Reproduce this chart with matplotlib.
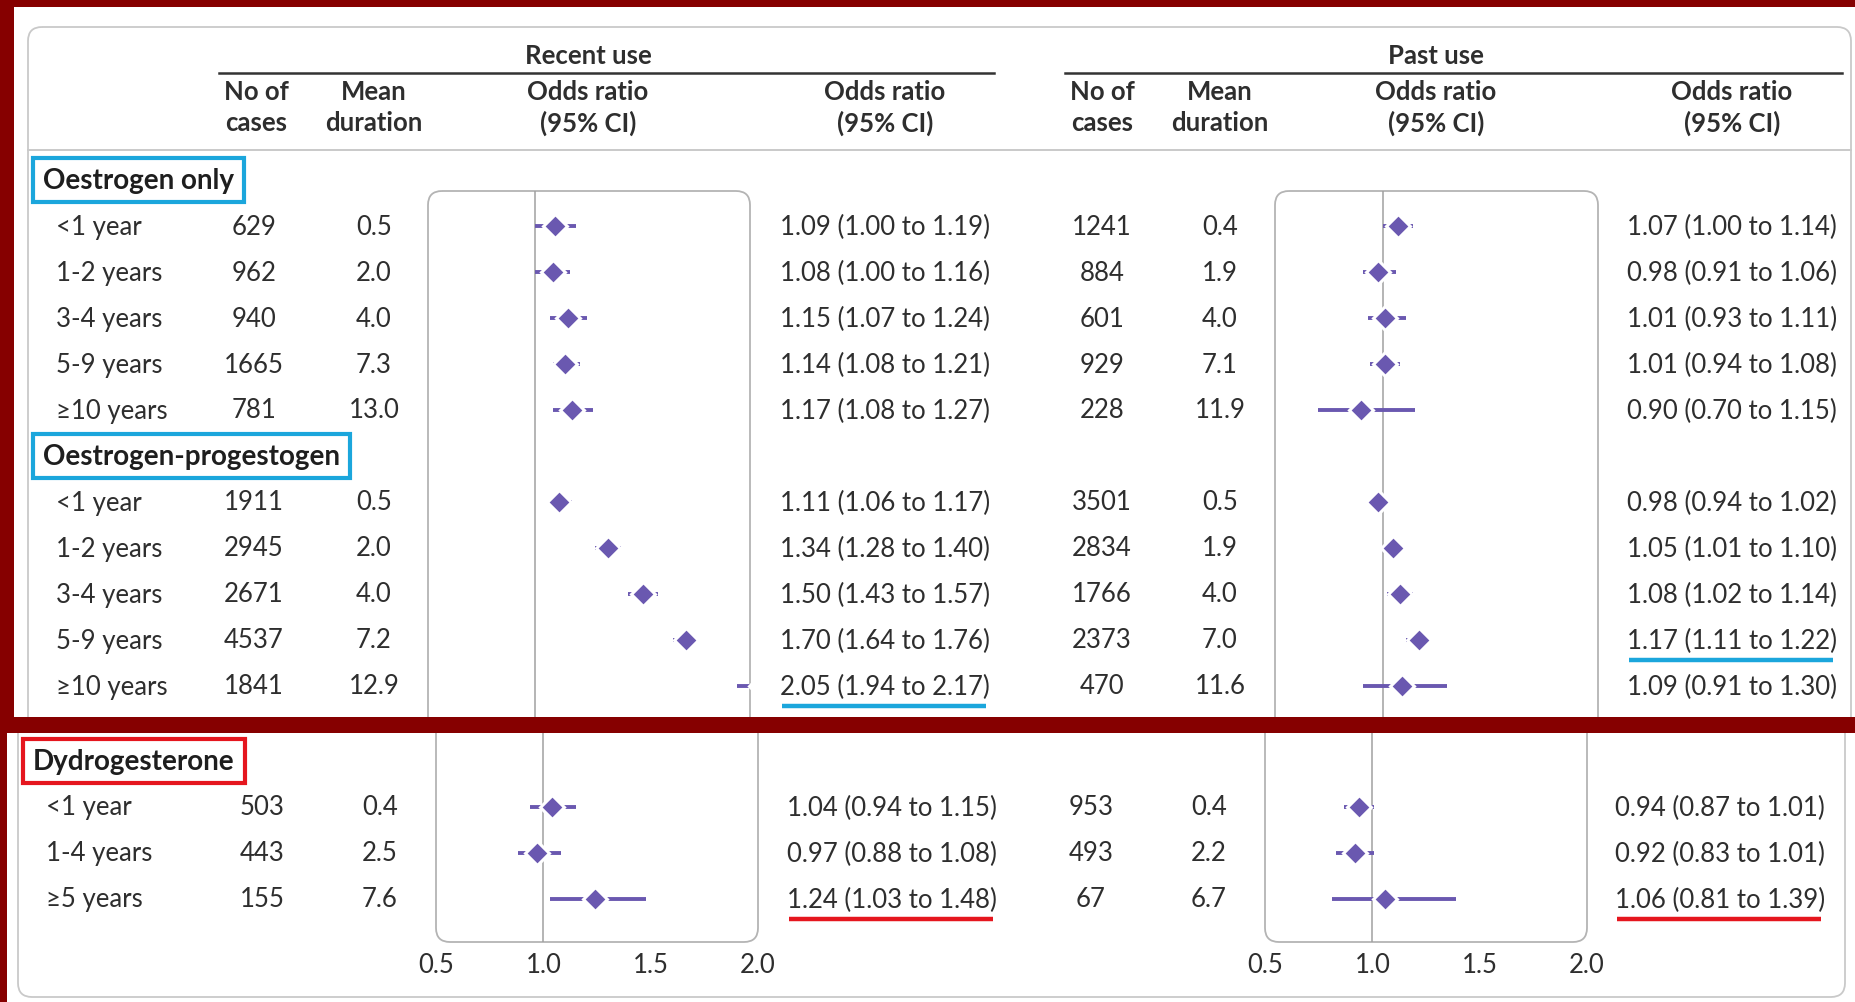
"""Forest plot of odds ratios by HRT type and duration (recent vs past use)."""

import matplotlib

matplotlib.use("Agg")
import matplotlib.pyplot as plt
from matplotlib.patches import FancyBboxPatch, Rectangle

W, H = 1856, 1003

group_names = ["Oestrogen only", "Oestrogen-progestogen", "Dydrogesterone"]
group_sizes = [5, 5, 3]
row_labels = [
    "<1 year", "1-2 years", "3-4 years", "5-9 years", "≥10 years",
    "<1 year", "1-2 years", "3-4 years", "5-9 years", "≥10 years",
    "<1 year", "1-4 years", "≥5 years",
]
recent_cases = [629, 962, 940, 1665, 781, 1911, 2945, 2671, 4537, 1841, 503, 443, 155]
recent_duration = [0.5, 2.0, 4.0, 7.3, 13.0, 0.5, 2.0, 4.0, 7.2, 12.9, 0.4, 2.5, 7.6]
recent_or = [1.09, 1.08, 1.15, 1.14, 1.17, 1.11, 1.34, 1.50, 1.70, 2.05, 1.04, 0.97, 1.24]
recent_lo = [1.00, 1.00, 1.07, 1.08, 1.08, 1.06, 1.28, 1.43, 1.64, 1.94, 0.94, 0.88, 1.03]
recent_hi = [1.19, 1.16, 1.24, 1.21, 1.27, 1.17, 1.40, 1.57, 1.76, 2.17, 1.15, 1.08, 1.48]
past_cases = [1241, 884, 601, 929, 228, 3501, 2834, 1766, 2373, 470, 953, 493, 67]
past_duration = [0.4, 1.9, 4.0, 7.1, 11.9, 0.5, 1.9, 4.0, 7.0, 11.6, 0.4, 2.2, 6.7]
past_or = [1.07, 0.98, 1.01, 1.01, 0.90, 0.98, 1.05, 1.08, 1.17, 1.09, 0.94, 0.92, 1.06]
past_lo = [1.00, 0.91, 0.93, 0.94, 0.70, 0.94, 1.01, 1.02, 1.11, 0.91, 0.87, 0.83, 0.81]
past_hi = [1.14, 1.06, 1.11, 1.08, 1.15, 1.02, 1.10, 1.14, 1.22, 1.30, 1.01, 1.01, 1.39]
x_ticks = [0.5, 1.0, 1.5, 2.0]
recent_marked = [9, 12]
past_marked = [8, 12]

_TEXT = "#2e2e2e"
_PURPLE = "#6a58b0"
_FRAME = "#b4b4b4"
_PANEL = "#c9c9c9"
_REF = "#a0a0a0"
_DARK_RED = "#860000"
_BLUE = "#1ba6dc"
_RED = "#e5161e"
_FS = 18.5
_FS_GROUP = 20
_STEP = 46
_FONT = ["Lato", "DejaVu Sans"]

plt.rcParams["font.family"] = _FONT

_PANELS = [
    dict(groups=[0, 1], y0=181, clip=(0, 718), frame=(28, 28, 1851, 1200),
         label_x=56, head_x=43, cols=(254, 374, 885, 1102, 1220, 1732),
         boxes=((428, 750), (1275, 1598)), box_y=(192, 718), frame_y=(192, 1200)),
    dict(groups=[2], y0=762, clip=(734, H), frame=(18, 500, 1845, 998),
         label_x=46, head_x=33, cols=(262, 380, 892, 1091, 1209, 1720),
         boxes=((436, 758), (1265, 1587)), box_y=(734, 943), frame_y=(500, 943)),
]


def _clip(ax, y0, y1):
    return Rectangle((0, y0), W, y1 - y0, transform=ax.transData)


def _rounded(ax, x0, y0, x1, y1, color, lw, clip):
    p = FancyBboxPatch((x0, y0), x1 - x0, y1 - y0,
                       boxstyle="round,pad=0,rounding_size=14",
                       fc="none", ec=color, lw=lw, zorder=2)
    ax.add_patch(p)
    p.set_clip_path(_clip(ax, *clip))


def _forest(fig, bx, by, ys, est, lo, hi, show_ticks):
    a = fig.add_axes([bx[0] / W, 1 - by[1] / H, (bx[1] - bx[0]) / W, (by[1] - by[0]) / H])
    a.set_xlim(0.5, 2.0)
    a.set_ylim(by[1], by[0])
    a.patch.set_visible(False)
    for s in a.spines.values():
        s.set_visible(False)
    a.set_yticks([])
    a.axvline(1.0, color=_REF, lw=1.1, zorder=1)
    a.hlines(ys, lo, hi, color=_PURPLE, lw=2.8, zorder=2)
    a.plot(est, ys, ls="none", marker="D", ms=12.5, mfc=_PURPLE, mec="white",
           mew=2.2, zorder=3)
    if show_ticks:
        a.set_xticks(x_ticks)
        a.set_xticklabels([f"{t:.1f}" for t in x_ticks])
        a.tick_params(axis="x", length=0, pad=7, labelsize=_FS, labelcolor=_TEXT)
        a.set_xticks(x_ticks[1:-1], minor=True)
        a.tick_params(axis="x", which="minor", direction="in", length=6,
                      width=1, color=_FRAME)
    else:
        a.set_xticks([])
    return a


fig = plt.figure(figsize=(W / 100, H / 100), dpi=100)
fig.patch.set_facecolor("white")
ax = fig.add_axes([0, 0, 1, 1])
ax.set_xlim(0, W)
ax.set_ylim(H, 0)
ax.axis("off")
renderer = fig.canvas.get_renderer()
inv = ax.transData.inverted()


def _extent(t):
    bb = t.get_window_extent(renderer)
    (x0, _), (x1, _) = inv.transform([(bb.x0, bb.y0), (bb.x1, bb.y1)])
    return x0, x1


# column headers
ax.text(588, 56, "Recent use", ha="center", va="center", fontsize=_FS,
        fontweight="bold", color=_TEXT)
ax.text(1436, 56, "Past use", ha="center", va="center", fontsize=_FS,
        fontweight="bold", color=_TEXT)
ax.plot([219, 994], [74, 74], color="#333333", lw=1.8)
ax.plot([1065, 1842], [74, 74], color="#333333", lw=1.8)
head_pairs = [("No of", "cases"), ("Mean", "duration"),
              ("Odds ratio", "(95% CI)"), ("Odds ratio", "(95% CI)")]
for hx, (l1, l2) in zip((256, 374, 588, 885, 1102, 1220, 1436, 1732), head_pairs * 2):
    for hy, s in ((92, l1), (123, l2)):
        ax.text(hx, hy, s, ha="center", va="center", fontsize=_FS,
                fontweight="bold", color=_TEXT)
ax.plot([28, 1851], [151, 151], color=_PANEL, lw=1.4)

starts = [sum(group_sizes[:g]) for g in range(len(group_sizes))]
for panel in _PANELS:
    _rounded(ax, *panel["frame"], _PANEL, 1.3, panel["clip"])
    for bx in panel["boxes"]:
        _rounded(ax, bx[0], panel["frame_y"][0], bx[1], panel["frame_y"][1],
                 _FRAME, 1.3, panel["clip"])
    c_cases, c_dur, c_ror, c_pcases, c_pdur, c_por = panel["cols"]
    slot = 0
    rows, ys = [], []
    for g in panel["groups"]:
        gy = panel["y0"] + slot * _STEP
        box_col = _RED if g == 2 else _BLUE
        t = ax.text(panel["head_x"], gy, group_names[g], ha="left", va="center",
                    fontsize=_FS_GROUP, fontweight="bold", color="#1e1e1e")
        x0, x1 = _extent(t)
        ax.add_patch(Rectangle((x0 - 10, gy - 22), x1 - x0 + 20, 44, fc="none",
                               ec=box_col, lw=3, zorder=3))
        slot += 1
        for i in range(starts[g], starts[g] + group_sizes[g]):
            y = panel["y0"] + slot * _STEP
            rows.append(i)
            ys.append(y)
            kw = dict(va="center", fontsize=_FS, color=_TEXT)
            ax.text(panel["label_x"], y, row_labels[i], ha="left", **kw)
            ax.text(c_cases, y, f"{recent_cases[i]}", ha="center", **kw)
            ax.text(c_dur, y, f"{recent_duration[i]:.1f}", ha="center", **kw)
            tr = ax.text(c_ror, y, f"{recent_or[i]:.2f} ({recent_lo[i]:.2f} to {recent_hi[i]:.2f})",
                         ha="center", **kw)
            ax.text(c_pcases, y, f"{past_cases[i]}", ha="center", **kw)
            ax.text(c_pdur, y, f"{past_duration[i]:.1f}", ha="center", **kw)
            tp = ax.text(c_por, y, f"{past_or[i]:.2f} ({past_lo[i]:.2f} to {past_hi[i]:.2f})",
                         ha="center", **kw)
            for txt, marked in ((tr, recent_marked), (tp, past_marked)):
                if i in marked:
                    x0, x1 = _extent(txt)
                    ax.plot([x0 + 2, x1 - 4], [y + 20, y + 20], color=box_col, lw=3.2,
                            solid_capstyle="butt")
            slot += 1
    last = panel is _PANELS[-1]
    _forest(fig, panel["boxes"][0], panel["box_y"], ys, [recent_or[i] for i in rows],
            [recent_lo[i] for i in rows], [recent_hi[i] for i in rows], last)
    _forest(fig, panel["boxes"][1], panel["box_y"], ys, [past_or[i] for i in rows],
            [past_lo[i] for i in rows], [past_hi[i] for i in rows], last)

# dark red frame around the top block
ax.add_patch(Rectangle((0, 0), W, 8, color=_DARK_RED, lw=0, zorder=5))
ax.add_patch(Rectangle((0, 0), 14, 734, color=_DARK_RED, lw=0, zorder=5))
ax.add_patch(Rectangle((0, 718), W, 16, color=_DARK_RED, lw=0, zorder=5))
ax.add_patch(Rectangle((0, 734), 7, H - 734, color=_DARK_RED, lw=0, zorder=5))

fig.savefig("out.png", dpi=100, facecolor="white")
